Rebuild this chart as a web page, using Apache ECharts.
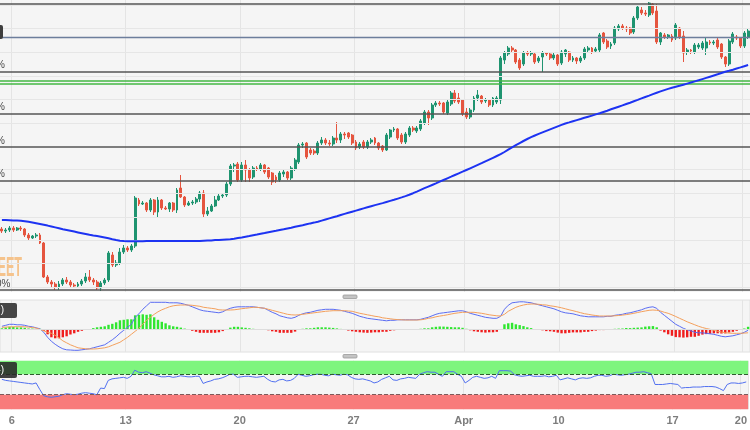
<!DOCTYPE html>
<html><head><meta charset="utf-8">
<script src="https://cdn.jsdelivr.net/npm/echarts/dist/echarts.min.js"></script>
<style>html,body{margin:0;padding:0;background:#fff;}#c{width:750px;height:430px;}</style>
</head><body><div id="c"></div>
<script>
// ---- time axis: trading days and number of 4H candles per day ----
const dayNames = ['Mar 3','Mar 6','Mar 7','Mar 8','Mar 9','Mar 10','Mar 13','Mar 14','Mar 15','Mar 16','Mar 17',
  'Mar 20','Mar 21','Mar 22','Mar 23','Mar 24','Mar 27','Mar 28','Mar 29','Mar 30','Mar 31',
  'Apr 3','Apr 4','Apr 5','Apr 6','Apr 7','Apr 10','Apr 11','Apr 12','Apr 13','Apr 14',
  'Apr 17','Apr 18','Apr 19','Apr 20'];
const candlesPerDay = [3,6,6,6,6,6,6,6,6,6,6, 6,6,6,6,6,6,6,6,6,5, 6,6,6,6,1,6,6,6,6,6, 6,6,6,2];
const firstHour = [12,0,0,0,0,0,0,0,0,0,0, 0,0,0,0,0,0,0,0,0,0, 0,0,0,0,0,0,0,0,0,0, 0,0,0,0];
const tickDays = ['Mar 6','Mar 13','Mar 20','Mar 27','Apr 3','Apr 10','Apr 17','Apr 20'];
const tickLabels = ['6','13','20','27','Apr','10','17','20'];

// ---- price (chart units) ----
const open = [61,59,60,62,60,62,61,55,52,54, 55,47,13,8,6,3,6,10,8,5, 4,6,9,13,10,8,2,7,10,35,
 25,27,38,42,40,44,90,86,87,80, 90,78,90,82,81,87,80,102,93,85, 87,88,91,97,76,79,84,90,94,95,
 106,124,126,110,125,120,113,122,121,125, 122,117,113,110,116,118,112,121,128,145,
 147,140,139,137,147,150,147,146,152,150, 156,157,155,148,143,148,143,148,152,147,
 144,140,153,160,161,155,148,155,162,159, 161,167,178,172,185,187,187,177,186,197,
 192,190,178,173,180,192,194,189,190,185, 188,190,230,236,242,240,230,226,237,236,
 236,229,233,237,236,232,235,227,236,238, 230,232,229,232,240,242,239,240,257,249,
 244,247,261,264,262,262,258,272,280,277, 275,286,279,248,255,253,254,252,262,254,
 238,240,238,243,242,242,248,247,250,246, 233,226,248,253,252,244,253];
const close = [59,60,62,60,62,61,55,52,54,55, 47,13,8,6,3,6,10,8,5,4, 6,9,13,10,8,2,7,10,37,25,
 27,38,42,40,44,92,86,87,80,90, 78,90,82,81,87,80,100,93,85,87, 88,91,97,76,79,84,90,94,95,106,
 124,125,110,125,120,112,122,121,125,118, 113,108,110,117,118,112,122,130,145,146,
 133,137,137,147,150,147,146,152,150,156, 155,153,147,142,146,143,148,150,147,142,
 140,155,160,161,152,148,156,162,160,162, 169,178,172,185,187,186,178,188,197,189,
 188,176,173,180,192,195,188,190,185,192, 192,232,237,242,240,228,222,237,236,237,
 228,232,237,236,232,235,226,238,240,230, 232,229,232,241,242,238,241,255,248,243,
 246,262,264,262,261,257,272,283,277,276, 287,277,248,257,253,255,250,265,253,237,
 240,239,245,245,247,248,247,248,243,233, 226,249,256,252,244,257,259];
const low = [57,57,58,58,59,59,53,50,51,52, 46,12,6,3,0,0,4,6,3,2, 3,4,7,8,5,0,-1,5,8,23,
 23,25,36,38,38,42,84,85,78,78, 75,73,80,80,78,78,77,92,83,84, 85,86,88,73,74,78,83,89,92,93,
 104,118,108,108,108,108,111,119,119,116, 111,105,107,108,113,110,110,119,126,142,
 131,135,135,135,145,145,144,144,147,147, 151,151,145,140,141,141,141,146,145,140,
 138,139,151,158,150,146,146,153,158,157, 159,165,165,170,183,184,176,175,184,187,
 186,174,171,171,178,189,186,187,183,183, 186,186,226,234,237,226,220,224,234,234,
 226,227,218,234,230,230,224,225,233,228, 228,226,227,230,237,236,237,238,246,241,
 241,245,259,260,258,255,256,270,275,274, 273,275,246,245,251,251,248,250,251,228,
 235,236,236,241,240,235,245,245,241,231, 223,224,246,250,242,242,251];
const high = [63,62,64,64,63,64,62,57,55,57, 57,48,15,10,8,9,12,13,10,7, 8,11,17,20,12,10,9,12,39,38,
 30,42,45,44,46,94,92,89,88,92, 91,93,91,84,88,88,102,115,94,89, 90,93,99,100,83,86,94,96,97,108,
 126,127,128,128,130,122,124,124,127,126, 123,118,115,119,120,119,124,132,147,148,
 148,142,141,149,153,152,150,154,168,158, 158,158,156,150,148,150,150,152,153,148,
 145,157,161,163,162,157,158,164,164,164, 171,180,180,187,189,189,188,190,199,200,
 197,191,182,182,194,200,195,192,191,193, 194,234,239,244,244,241,232,239,239,239,
 237,234,239,238,238,237,236,240,241,239, 234,233,234,243,244,243,243,257,258,251,
 248,264,266,266,264,263,274,285,283,280, 288,287,286,258,257,256,256,267,263,259,
 242,241,247,247,249,252,250,250,252,247, 234,251,258,255,253,259,261];
const sma200 = [70,70,69.8,69.6,69.4,69.2,68.8,68.2,67.6,66.8, 66,65.2,64.4,63.5,62.6,61.7,60.8,60,59.2,58.4,
 57.6,56.8,56,55.2,54.5,53.9,53.3,52.5,51.7,50.8, 50,49.3,49,48.8,48.7,48.7,48.7,48.8,48.9,49,
 49,49,49,49,49,49,49,49,49,49, 49,49,49,49.2,49.4,49.6,49.9,50.1,50.3,50.5,
 50.7,51.3,52,52.6,53.3,54,54.8,55.5,56.3,57, 57.8,58.5,59.2,60,60.7,61.5,62.3,63.2,64,64.8,
 65.7,66.6,67.4,68.3,69.4,70.5,71.6,72.7,73.8,75, 76.1,77.2,78.3,79.4,80.5,81.6,82.7,83.8,84.9,85.9,
 86.9,88,89.1,90.2,91.4,92.6,93.9,95.3,96.8,98.4, 100.1,101.8,103.4,105,106.6,108.3,110,111.7,113.3,115,
 116.7,118.3,120,121.7,123.4,125.1,126.8,128.6,130.4,132.2, 134,135.8,138,140.4,142.6,144.8,146.9,149,151,152.8,
 154.5,156.1,157.6,159.1,160.6,162.1,163.6,165.1,166.5,167.6, 168.8,169.9,171,172.2,173.3,174.4,175.6,176.7,178,179.3,
 180.7,182,183.3,184.6,186,187.3,188.7,190.1,191.6,193, 194.4,195.9,197.3,198.6,199.9,201.1,202.2,203.2,204.2,205.3,
 206.4,207.5,208.6,209.7,210.9,212.1,213.3,214.5,215.7,217, 218.2,219.2,220.3,221.5,222.6,223.8,225];

// horizontal levels (chart units)
const fibLevels = [286, 218.5, 176.7, 143, 109.3, 0];
const fibLabels = ['0.0%','23.6%','38.2%','50.0%','61.8%','100.0%'];
const slateLevel = 253;
const greenLevels = [209.7, 206];
const priceGridLevels = [3, 27, 50, 73, 97, 121, 167, 191, 214, 238, 262, 285];

// ---- MACD ----
const macd = [3,4,5,5,4.5,4.5,4,3,2.5,1.5, 0.5,-3,-8,-12,-15,-17.5,-19.5,-20.5,-20.7,-21,
 -21,-20.5,-20,-19.5,-18.5,-17.5,-16.5,-15.5,-13,-10.5, -7.5,-4,-1,2,5,12,15.5,20,23.5,27,
 27,27,27,27,26.5,26.5,26.5,26,25,24, 22.5,21,19.5,18.5,18,17.5,17,16.5,17.5,19.5,
 21,22,22.5,22.5,22.5,22.5,22.5,22,21.5,21, 19,17,15.5,13.5,12.5,11.5,11,12,14,15.5,
 16.5,17,18,19,19.5,20,20,20,19.5,19, 18,17,16,14.5,13,12,11,10.5,10,9.5,
 9,8.5,9,9,9.5,9.5,9.5,9.5,9.5,9.5, 10,11,12,13.5,15,16,16.5,17,17.5,18,
 18.5,18.5,17.5,16,15,14,13,12,11.5,11, 11,13,20,24,26.5,27,27.5,27.5,27,26.5,
 25.5,24.5,23.5,22.5,21.5,20.5,19,17.5,16.5,16, 15.5,14.5,13.5,13,12.5,12.5,12.5,12.5,12.5,13,
 13,14,14.5,15,16,16.5,17.5,18.5,19.5,21, 22,22.5,21,17,14,11,8,5,3,1,
 -0.5,-1.5,-3,-3.5,-3.5,-4,-4.5,-5,-6,-7, -7.5,-7,-6.5,-5.5,-4.5,-3,-1];
const signal = [2,2.2,2.4,2.5,2.6,2.6,2.5,2.2,1.8,1.2, 0,-1.5,-3,-4,-6,-8.5,-11.5,-13.5,-15.5,-17,
 -18.5,-19,-19.5,-19.7,-19.7,-19.5,-19,-18.5,-17.5,-16, -14.5,-13,-10.5,-8,-5,-2,1,5,9,12,
 15,17.5,19.5,21,22.5,23.5,24,24.3,24.3,24.3, 24,23.5,23,22,21.5,21,20.5,19.5,19.3,19.3,
 19.3,19.5,20,20.6,21,21.5,22,22,21.5,21, 20,19,18,17,16,15,14.5,14.3,14.5,15,
 15.5,16,16.5,17,17.5,18,18.3,18.6,18.6,18.6, 18.6,18.3,18,17,16,15.3,14.5,13.8,13,12.5,
 11.5,11,10.5,10,9.7,9.5,9.3,9.3,9.3,9.3, 9.5,10,11,11.5,12.5,13.2,13.8,14.5,15.3,16,
 16.5,17,17,17,17,16.5,16,15.3,14.5,14, 13.5,13.3,15,18,20,22,23.3,24.3,25,25.3,
 25.3,25,24.5,24.3,23.5,23,22.3,21.5,20.5,19.5, 18.6,17.6,16.6,15.6,15,14.3,13.8,13.3,13.3,13.3,
 13.3,13.5,13.8,14.2,14.7,15.3,16,16.8,17.6,18.3, 19,19.3,19,18.3,17,16,14.5,12.8,11,9.3,
 7.5,6,4.5,3,1.8,0.8,0,-1,-2,-2.8, -3.4,-3.8,-4,-4,-4,-3.8,-3.5];

// ---- RSI ----
const rsi = [60,58,57,56,55,54,53,52,51,53, 40,28,26,25,26,27,30,32,31,30, 31,33,34,33,32,30,43,42,58,61,
 62,63,64,62,66,78,74,73,75,72, 69,67,65,65,66,64,65,67,66,65, 65,66,66,52,55,57,60,61,63,66,
 70,70,64,65,66,66,65,64,65,66, 60,56,55,59,60,57,58,62,70,68, 66,67,69,70,70,68,67,70,69,68,
 70,69,64,61,60,61,59,57,53,55, 60,63,66,59,58,61,62,64,63,62, 70,73,75,74,74,70,66,75,75,75,
 70,66,53,58,64,66,64,62,63,66, 62,77,77,77,76,69,67,66,67,68, 66,66,66,67,65,66,68,59,61,63,
 61,59,62,63,62,63,66,68,68,66, 67,70,69,68,69,70,72,74,74,75, 73,71,50,50,50,51,52,51,50,43,
 44,44,45,45,45,46,46,46,45,42, 38,50,53,53,52,53,55];
const rsiUpper = 70, rsiLower = 30, rsiMin = 1.5, rsiMax = 96.5;

// ---- build ----
const categories = [], tickIdx = new Map();
dayNames.forEach((d, k) => {
  if (tickDays.indexOf(d) >= 0) tickIdx.set(categories.length, tickLabels[tickDays.indexOf(d)]);
  for (let j = 0; j < candlesPerDay[k]; j++) {
    const h = firstHour[k] + 4 * j;
    categories.push(d + ' ' + (h < 10 ? '0' : '') + h + ':00');
  }
});
const ohlc = open.map((o, i) => [o, close[i], low[i], high[i]]);
const hist = macd.map((m, i) => +(m - signal[i]).toFixed(2));

function xAxisCfg(gi, showLabel) {
  return {
    type: 'category', gridIndex: gi, data: categories, boundaryGap: true,
    axisLine: {show: false}, axisTick: {show: false},
    axisLabel: {show: showLabel, interval: (i) => tickIdx.has(i), formatter: (v, i) => tickIdx.get(i) || '',
      color: '#7d7d7d', fontSize: 11, fontFamily: 'Liberation Sans', fontWeight: 'bold', margin: 6, padding: [0, 3, 0, 0]},
    splitLine: {show: true, interval: (i) => tickIdx.has(i), lineStyle: {color: '#e4e4e4', width: 1}}
  };
}
function yAxisCfg(gi, min, max) {
  return {type: 'value', gridIndex: gi, min: min, max: max, axisLine: {show: false}, axisTick: {show: false},
    axisLabel: {show: false}, splitLine: {show: false}};
}

const chart = echarts.init(document.getElementById('c'), null, {renderer: 'canvas'});
const lineMarks = [];
priceGridLevels.forEach(v => lineMarks.push({yAxis: v, lineStyle: {color: '#e6e6e6', width: 1, type: 'solid'}}));
greenLevels.forEach(v => lineMarks.push({yAxis: v, lineStyle: {color: '#43b743', width: 1.5, type: 'solid'}}));
lineMarks.push({yAxis: slateLevel, lineStyle: {color: '#6d7e9c', width: 1.3, type: 'solid'}});
fibLevels.forEach(v => lineMarks.push({yAxis: v, lineStyle: {color: '#555555', width: 1.5, type: 'solid'}}));

chart.setOption({
  animation: false,
  backgroundColor: '#ffffff',
  grid: [
    {left: -1, right: 0, top: 0, height: 292, show: true, backgroundColor: '#f5f5f5', borderWidth: 0},
    {left: -1, right: 0, top: 300, height: 52, show: true, backgroundColor: '#f5f5f5', borderColor: '#e0e0e0', borderWidth: 1},
    {left: -1, right: 0, top: 360.7, height: 48.6, show: true, backgroundColor: '#f5f5f5', borderWidth: 0}
  ],
  xAxis: [xAxisCfg(0, false), xAxisCfg(1, false), xAxisCfg(2, true)],
  yAxis: [yAxisCfg(0, -2, 290), yAxisCfg(1, -22.7, 29.3), yAxisCfg(2, rsiMin, rsiMax)],
  series: [
    {type: 'line', xAxisIndex: 0, yAxisIndex: 0, data: [], z: 1, silent: true,
      markLine: {silent: true, symbol: ['none', 'none'], label: {show: false}, data: lineMarks}},
    {type: 'candlestick', xAxisIndex: 0, yAxisIndex: 0, data: ohlc, barWidth: 2.4, z: 3,
      itemStyle: {color: '#1f9470', color0: '#e5553f', borderColor: '#1f9470', borderColor0: '#e5553f', borderWidth: 1}},
    {type: 'line', xAxisIndex: 0, yAxisIndex: 0, data: sma200, showSymbol: false, z: 5,
      lineStyle: {color: '#1d33f2', width: 2}},
    {type: 'bar', xAxisIndex: 1, yAxisIndex: 1, data: hist, barWidth: 2.4, z: 3,
      itemStyle: {color: (p) => p.value >= 0 ? '#2ee62e' : '#f01d1d'},
      markLine: {silent: true, symbol: ['none', 'none'], label: {show: false},
        data: [{yAxis: 0, lineStyle: {color: '#dddddd', width: 1, type: 'solid'}}]}},
    {type: 'line', xAxisIndex: 1, yAxisIndex: 1, data: macd, showSymbol: false, z: 4,
      lineStyle: {color: '#5a6cf2', width: 1}},
    {type: 'line', xAxisIndex: 1, yAxisIndex: 1, data: signal, showSymbol: false, z: 4,
      lineStyle: {color: '#f4a05c', width: 1}},
    {type: 'line', xAxisIndex: 2, yAxisIndex: 2, data: rsi, showSymbol: false, z: 4,
      lineStyle: {color: '#5170f0', width: 1},
      markArea: {silent: true, data: [
        [{yAxis: rsiUpper, itemStyle: {color: '#7ef57e'}}, {yAxis: rsiMax}],
        [{yAxis: rsiMin, itemStyle: {color: '#f87b7b'}}, {yAxis: rsiLower}]
      ]},
      markLine: {silent: true, symbol: ['none', 'none'], label: {show: false}, data: [
        {yAxis: rsiUpper, lineStyle: {color: '#2f5c2f', width: 1, type: 'dashed'}},
        {yAxis: rsiLower, lineStyle: {color: '#7d5a5a', width: 1, type: 'dashed'}}
      ]}}
  ]
});

// decorations positioned from the axes
const gfx = [];
fibLabels.forEach((t, i) => {
  const y = chart.convertToPixel({yAxisIndex: 0}, fibLevels[i]);
  gfx.push({type: 'text', x: -23.5, y: y - 1, z: 10,
    style: {text: t, font: '10px "Liberation Sans"', fill: '#4a4a4a', align: 'left', verticalAlign: 'bottom', textAlign: 'left', textVerticalAlign: 'bottom'}});
});
const sy = chart.convertToPixel({yAxisIndex: 0}, slateLevel);
gfx.push({type: 'rect', z: 10, shape: {x: -40, y: sy - 12, width: 43, height: 14, r: 2}, style: {fill: '#3e3e3e'}});
gfx.push({type: 'text', x: 22, y: 268, scaleX: 0.45, z: 1,
  style: {text: 'FXSTREET', font: 'bold 28px "Liberation Sans"', fill: '#f5c38c', align: 'right', verticalAlign: 'middle', textAlign: 'right', textVerticalAlign: 'middle'}});
// indicator name boxes
gfx.push({type: 'rect', z: 10, shape: {x: -70, y: 303, width: 87, height: 15, r: 2}, style: {fill: '#454545'}});
gfx.push({type: 'text', x: 4, y: 310.5, z: 11, style: {text: 'MACD (12,26,9)', font: '10px "Liberation Sans"', fill: '#ffffff', align: 'right', verticalAlign: 'middle', textAlign: 'right', textVerticalAlign: 'middle'}});
gfx.push({type: 'rect', z: 10, shape: {x: -50, y: 362, width: 67, height: 16, r: 2}, style: {fill: 'rgba(40,40,40,0.88)'}});
gfx.push({type: 'text', x: 4, y: 370, z: 11, style: {text: 'RSI (14)', font: '10px "Liberation Sans"', fill: '#ffffff', align: 'right', verticalAlign: 'middle', textAlign: 'right', textVerticalAlign: 'middle'}});
// panel resize handles
[295, 354.5].forEach(y => {
  gfx.push({type: 'rect', z: 10, shape: {x: 343, y: y, width: 14, height: 3.5, r: 1}, style: {fill: '#c4c4c4', stroke: '#9a9a9a', lineWidth: 0.8}});
});
chart.setOption({graphic: gfx});
</script>
</body></html>
